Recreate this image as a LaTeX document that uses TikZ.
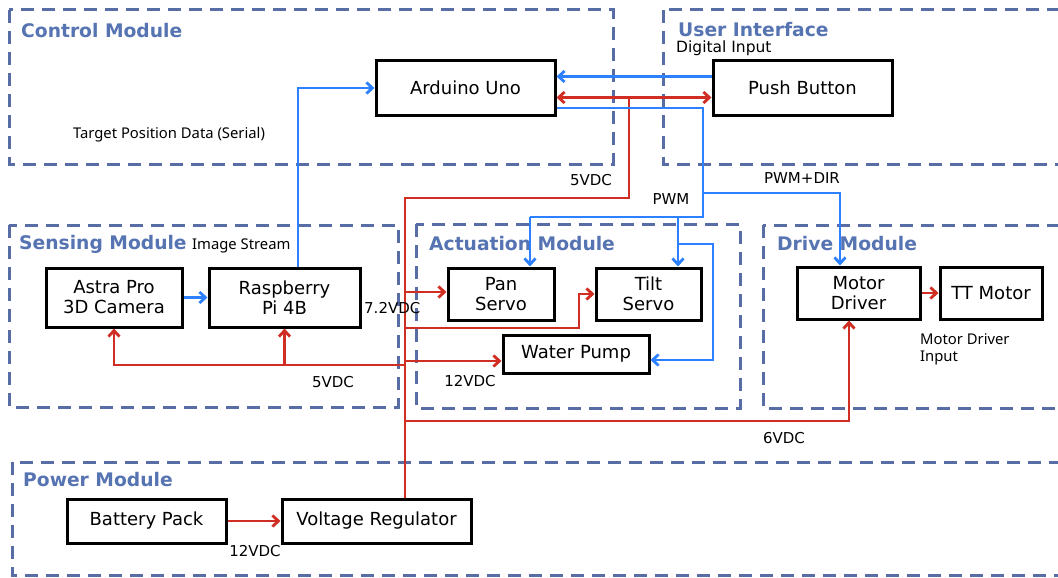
\documentclass[tikz,border=0pt]{standalone}
\usepackage{fontspec}
\setmainfont{DejaVu Sans}
\newfontfamily\notofont{Noto Sans}
\usetikzlibrary{arrows.meta}
\definecolor{modcol}{RGB}{88,108,165}
\definecolor{titcol}{RGB}{86,116,178}
\definecolor{bluecol}{RGB}{45,128,255}
\definecolor{redcol}{RGB}{208,45,35}
\begin{document}
\begin{tikzpicture}[x=1pt,y=-1pt,
 >={Straight Barb[length=6pt,width=11pt]},
 module/.style={draw=modcol, line width=3pt, dash pattern=on 13pt off 8pt},
 modtitle/.style={anchor=west, text=titcol, font=\fontsize{18.7}{22}\selectfont\bfseries, inner sep=0pt},
 blockbox/.style={draw=black, line width=3pt, fill=white, align=center, font=\fontsize{18}{20}\selectfont, inner sep=0pt},
 bl/.style={draw=bluecol, line width=2.8pt},
 rd/.style={draw=redcol, line width=2.8pt},
 vlabel/.style={font=\fontsize{15}{18}\selectfont, inner sep=0pt},
 nlabel/.style={font=\notofont\fontsize{14.8}{17}\selectfont, inner sep=0pt},
]
\useasboundingbox (0,0) rectangle (1058,578);
\fill[white] (0,0) rectangle (1058,578);

% modules
\draw[module] (9,10) rectangle (613,164);
\draw[module] (663,10) rectangle (1075,164);
\draw[module] (9,225) rectangle (398,407);
\draw[module] (416,224) rectangle (740,408);
\draw[module] (763,225) rectangle (1075,408);
\draw[module] (12,462) rectangle (1075,575);

\node[modtitle] (tctrl) at (21,31) {Control Module};
\node[modtitle] (tuser) at (678,30) {User Interface};
\node[modtitle] (tsense) at (19,244) {Sensing Module};
\node[modtitle] (tact) at (429,244) {Actuation Module};
\node[modtitle] (tdrive) at (777,244) {Drive Module};
\node[modtitle] (tpower) at (23,480) {Power Module};

% blocks
\node[blockbox, minimum width=179pt, minimum height=54pt] (ard) at (465.5,88) {Arduino Uno};
\node[blockbox, minimum width=179pt, minimum height=54pt] (pb) at (802.5,88) {Push Button};
\node[blockbox, minimum width=136pt, minimum height=59pt] (astra) at (114,297.5) {Astra Pro\\3D Camera};
\node[blockbox, minimum width=151pt, minimum height=59pt] (rpi) at (284.5,297.5) {Raspberry\\Pi 4B};
\node[blockbox, minimum width=106pt, minimum height=52pt] (pan) at (501,294) {Pan\\Servo};
\node[blockbox, minimum width=105pt, minimum height=52pt] (tilt) at (648.5,294) {Tilt\\Servo};
\node[blockbox, minimum width=146pt, minimum height=38pt] (pump) at (576,354) {Water Pump};
\node[blockbox, minimum width=123pt, minimum height=52pt] (md) at (858.5,293) {Motor\\Driver};
\node[blockbox, minimum width=102pt, minimum height=52pt] (tt) at (991,293) {TT Motor};
\node[blockbox, minimum width=159pt, minimum height=44pt] (bat) at (146.5,521) {Battery Pack};
\node[blockbox, minimum width=189pt, minimum height=44pt] (vr) at (376.5,521) {Voltage Regulator};

% junction coordinates
\coordinate (trunkturn) at (405,198);
\coordinate (trunktap) at (629,97);
\coordinate (panfeed) at (405,292);
\coordinate (tiltfeed) at (405,328);
\coordinate (tiltbend) at (579,328);
\coordinate (pumpfeed) at (405,361);
\coordinate (feedfive) at (405,365);
\coordinate (feedsix) at (405,421);
\coordinate (pwmsplit) at (703,193);
\coordinate (pwmbus) at (703,217);
\coordinate (pwmpan) at (530,217);
\coordinate (pwmtilt) at (678,217);
\coordinate (pwmpump) at (678,244);
\coordinate (pumpbend) at (713,244);

% power (red)
\draw[rd] ([xshift=28.5pt]vr.north) -- (trunkturn) -| (trunktap);
\draw[rd,<->] ([yshift=-9.5pt]ard.east) -- ([yshift=-9.5pt]pb.west);
\draw[rd,->] (panfeed) -- (panfeed -| pan.west);
\draw[rd,->] (tiltfeed) -- (tiltbend) |- (tilt.west);
\draw[rd,->] (pumpfeed) -- (pumpfeed -| pump.west);
\draw[rd,->] (feedfive) -| (astra.south);
\draw[rd,->] (rpi.south |- feedfive) -- (rpi.south);
\draw[rd,->] (feedsix) -| ([xshift=-9.5pt]md.south);
\draw[rd,->] (bat.east) -- (vr.west);
\draw[rd,->] (md.east) -- (tt.west);

% signals (blue)
\draw[bl,->] (astra.east) -- (rpi.west);
\draw[bl,->] ([xshift=13.5pt]rpi.north) |- (ard.west);
\draw[bl,->] ([yshift=11.5pt]pb.west) -- ([yshift=11.5pt]ard.east);
\draw[bl] ([yshift=-20pt]ard.east) -| (pwmbus) -- (pwmpan);
\draw[bl,->] (pwmpan) -- (pwmpan |- pan.north);
\draw[bl,->] (pwmtilt) -- (pwmtilt |- tilt.north);
\draw[bl,->] (pwmpump) -- (pumpbend) |- ([yshift=-6pt]pump.east);
\draw[bl,->] (pwmsplit) -| ([xshift=-18.5pt]md.north);

% labels
\node[nlabel] (lbltarget) at (169,135) {Target Position Data (Serial)};
\node[vlabel, anchor=west, font=\fontsize{15.5}{18}\selectfont] (lbldigital) at (676,48.5) {Digital Input};
\node[vlabel] (lblfivetop) at (591,180) {5VDC};
\node[vlabel] (lblpwmdir) at (802,178) {PWM+DIR};
\node[vlabel] (lblpwm) at (671,199) {PWM};
\node[nlabel, anchor=west] (lblimage) at (192,246) {Image Stream};
\node[vlabel, anchor=west] (lblseven) at (364,308) {7.2VDC};
\node[vlabel] (lblfive) at (333,382) {5VDC};
\node[vlabel] (lbltwelve) at (470,381) {12VDC};
\node[nlabel, anchor=west, align=left] (lblmdi) at (920,349) {Motor Driver\\Input};
\node[vlabel] (lblsix) at (784,438) {6VDC};
\node[vlabel] (lbltwelvebat) at (255,551) {12VDC};
\end{tikzpicture}
\end{document}
